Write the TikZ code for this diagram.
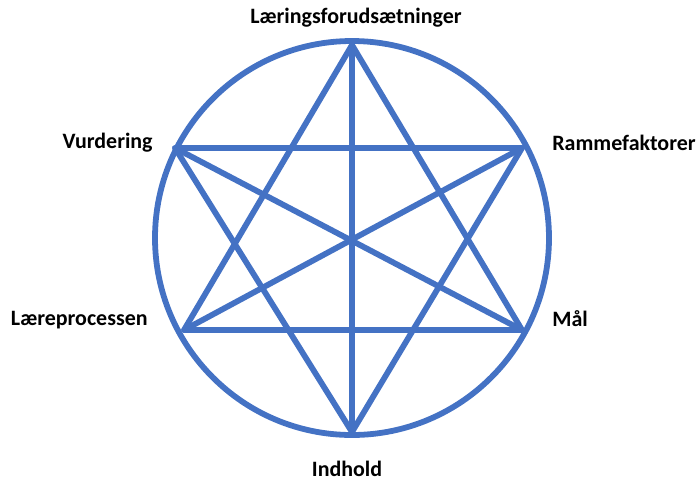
\documentclass[tikz,border=0pt]{standalone}
\usepackage{fontspec}
\setmainfont{Carlito}
\usetikzlibrary{positioning,calc}
\definecolor{starblue}{HTML}{4472C4}

\begin{document}
\begin{tikzpicture}[x=0.02cm, y=-0.02cm,
  edge/.style={draw=starblue, line width=3.3pt, line cap=round, line join=round},
  lab/.style={font=\fontsize{12.5}{14}\selectfont\bfseries, inner sep=0pt}]
\useasboundingbox (0,0) rectangle (699,481);
% corners of the star
\coordinate (ctr) at (352,238);
\coordinate (lf)  at (352,45);
\coordinate (rf)  at (522,148);
\coordinate (ml)  at (522,330);
\coordinate (ind) at (352,432);
\coordinate (lp)  at (184,330);
\coordinate (vu)  at (175,148);
% ring
\draw[edge] (ctr) circle[radius=197];
% triangles
\draw[edge] (lf) -- (lp) -- (ml) -- cycle;
\draw[edge] (ind) -- (vu) -- (rf) -- cycle;
% through the middle
\draw[edge] (lf) -- (ind);
\draw[edge] (vu) -- (ml);
\draw[edge] (rf) -- (lp);
% labels
\node[lab] (tlf) at (356,18) {Læringsforudsætninger};
\node[lab, anchor=east] (tvu) at (153,143) {Vurdering};
\node[lab, anchor=west] (trf) at (552,143) {Rammefaktorer};
\node[lab, anchor=east] (tlp) at (148,320) {Læreprocessen};
\node[lab, anchor=west] (tml) at (552,319) {Mål};
\node[lab] (tind) at (347,469) {Indhold};
\end{tikzpicture}
\end{document}
